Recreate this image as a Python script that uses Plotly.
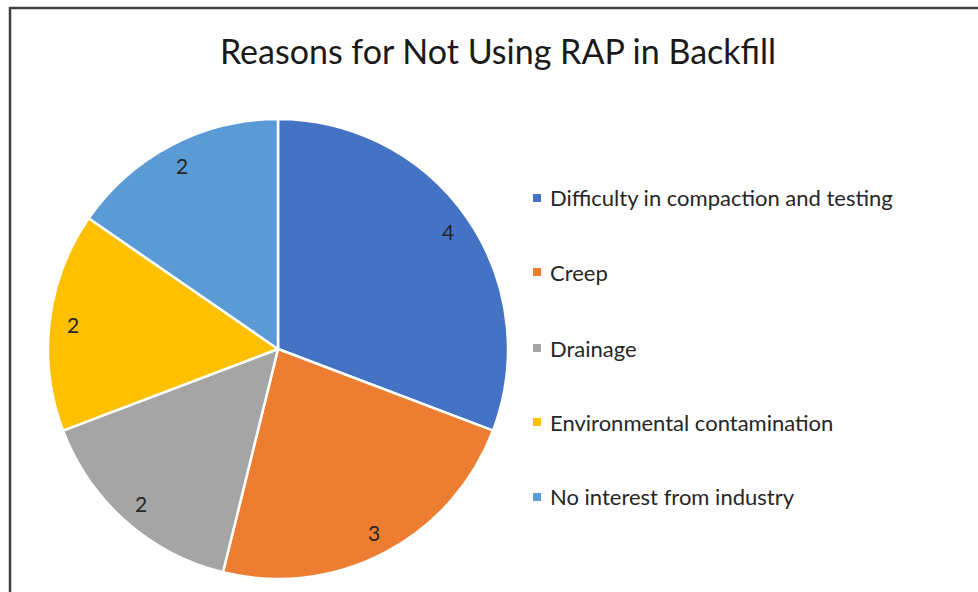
import math
import plotly.graph_objects as go

# Survey responses: reasons for not using RAP in backfill
reasons = [
    "Difficulty in compaction and testing",
    "Creep",
    "Drainage",
    "Environmental contamination",
    "No interest from industry",
]
counts = [4, 3, 2, 2, 2]
colors = ["#4472C4", "#ED7D31", "#A5A5A5", "#FFC000", "#5B9BD5"]

W, H = 978, 592
FONT = "Lato, Carlito, sans-serif"

# Pie geometry in pixels
cx, cy, R = 278, 349, 230

fig = go.Figure()
fig.add_trace(go.Pie(
    labels=reasons,
    values=counts,
    sort=False,
    direction="clockwise",
    rotation=0,
    marker=dict(colors=colors, line=dict(color="white", width=2.5)),
    textinfo="none",
    domain=dict(x=[(cx - R) / W, (cx + R) / W], y=[(H - cy - R) / H, (H - cy + R) / H]),
    showlegend=False,
    hoverinfo="label+value",
))

# Value labels placed near the outer edge, at each slice's mid-angle
total = sum(counts)
cum = 0
for v in counts:
    mid = (cum + v / 2) / total * 2 * math.pi
    cum += v
    r = 0.9 * R
    fig.add_annotation(x=(cx + r * math.sin(mid)) / W, y=(H - cy + r * math.cos(mid)) / H,
                       xref="paper", yref="paper", text=str(v), showarrow=False,
                       xanchor="center", yanchor="middle",
                       font=dict(family=FONT, size=21, color="#262626"))

# Legend drawn as colored squares with labels beside them
legend_y = [198, 272, 348, 422, 497]
for label, col, ly in zip(reasons, colors, legend_y):
    fig.add_shape(type="rect", xref="paper", yref="paper",
                  x0=533 / W, x1=541 / W, y0=(H - ly - 4) / H, y1=(H - ly + 4) / H,
                  fillcolor=col, line=dict(width=0))
    fig.add_annotation(x=548 / W, y=(H - ly) / H, xref="paper", yref="paper",
                       text=label, showarrow=False, xanchor="left", yanchor="middle",
                       font=dict(family=FONT, size=22, color="#262626"))

# Chart frame (left and top edges)
fig.add_shape(type="path", xref="paper", yref="paper",
              path=f"M {10 / W} 0 L {10 / W} {1 - 8 / H} L 1 {1 - 8 / H}",
              line=dict(color="#404040", width=2.5))

fig.update_layout(
    width=W, height=H,
    margin=dict(l=0, r=0, t=0, b=0),
    paper_bgcolor="white",
    plot_bgcolor="white",
    title=dict(text="Reasons for Not Using RAP in Backfill", x=498 / W, xanchor="center",
               y=1 - 52 / H, yanchor="middle",
               font=dict(family=FONT, size=34, color="#1a1a1a")),
)

fig.write_html("out.html")
